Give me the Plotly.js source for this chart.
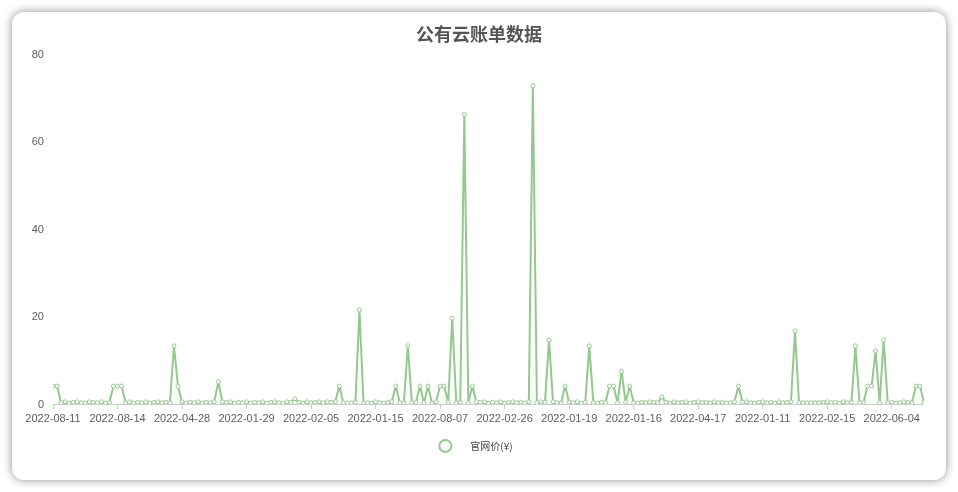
<!DOCTYPE html>
<html>
<head>
<meta charset="utf-8">
<script src="https://cdn.plot.ly/plotly-3.0.1.min.js"></script>
<style>
  html, body { margin: 0; padding: 0; background: #ffffff; width: 958px; height: 492px; overflow: hidden; }
  #card { position: absolute; left: 12px; top: 12px; width: 934px; height: 468px; background: #ffffff;
          border-radius: 12px; box-shadow: 0 0 10px rgba(0,0,0,0.45); overflow: hidden; }
  #chart { width: 934px; height: 468px; will-change: transform; }
</style>
</head>
<body>
<div id="card"><div id="chart"></div></div>
<script>
// Tick labels shown on the category axis (every 16th category)
const tickLabels = ['2022-08-11','2022-08-14','2022-04-28','2022-01-29','2022-02-05','2022-01-15','2022-08-07',
                    '2022-02-26','2022-01-19','2022-01-16','2022-04-17','2022-01-11','2022-02-15','2022-06-04'];
const labelStep = 16;

// 官网价(¥) per bill row
const prices = [
  4.1, 4.1, 0.3, 0.5, 0.2, 0.4, 0.5, 0.3, 0.2, 0.5,
  0.4, 0.3, 0.5, 0.2, 0.4, 4.1, 4.1, 4.1, 0.3, 0.5,
  0.2, 0.4, 0.3, 0.5, 0.2, 0.4, 0.5, 0.3, 0.4, 0.3,
  13.3, 4.0, 0.5, 0.2, 0.4, 0.3, 0.5, 0.2, 0.4, 0.3,
  0.5, 5.1, 0.5, 0.4, 0.5, 0.2, 0.4, 0.3, 0.5, 0.2,
  0.4, 0.3, 0.5, 0.2, 0.4, 0.5, 0.3, 0.2, 0.5, 0.4,
  1.2, 0.4, 0.2, 0.5, 0.3, 0.4, 0.5, 0.3, 0.5, 0.4,
  0.5, 4.1, 0.3, 0.2, 0.3, 0.4, 21.5, 0.2, 0.3, 0.2,
  0.5, 0.3, 0.2, 0.4, 0.5, 4.1, 0.3, 0.2, 13.3, 0.3,
  0.4, 4.1, 0.3, 4.1, 0.2, 0.5, 4.1, 4.1, 0.4, 19.6,
  0.3, 0.4, 66.2, 0.3, 4.1, 0.5, 0.4, 0.5, 0.2, 0.4,
  0.3, 0.5, 0.2, 0.4, 0.5, 0.3, 0.4, 0.2, 0.5, 72.8,
  0.3, 0.5, 0.4, 14.6, 0.5, 0.3, 0.2, 4.1, 0.4, 0.3,
  0.5, 0.2, 0.4, 13.3, 0.3, 0.2, 0.4, 0.3, 4.1, 4.1,
  0.3, 7.5, 0.4, 4.1, 0.3, 0.2, 0.4, 0.3, 0.5, 0.4,
  0.3, 1.6, 0.4, 0.2, 0.5, 0.3, 0.4, 0.5, 0.2, 0.4,
  0.5, 0.3, 0.4, 0.2, 0.5, 0.3, 0.4, 0.2, 0.3, 0.5,
  4.1, 0.4, 0.5, 0.3, 0.2, 0.4, 0.5, 0.3, 0.4, 0.2,
  0.5, 0.3, 0.4, 0.5, 16.7, 0.3, 0.3, 0.3, 0.3, 0.3,
  0.3, 0.4, 0.5, 0.3, 0.4, 0.2, 0.5, 0.3, 0.4, 13.3,
  0.3, 0.4, 4.1, 4.1, 12.1, 0.3, 14.6, 0.3, 0.4, 0.2,
  0.3, 0.5, 0.4, 0.3, 4.1, 4.1, 0.3
];
const seriesName = '官网价(¥)';
const chartTitle = '公有云账单数据';

const xIdx = prices.map((_, i) => i);
const tickVals = tickLabels.map((_, i) => i * labelStep);
const green = 'rgb(148,200,143)';

const traces = [
  {
    type: 'scatter', mode: 'lines+markers', x: xIdx, y: prices, name: seriesName, showlegend: false,
    line: { color: green, width: 2 },
    marker: { symbol: 'circle', size: 4, color: '#ffffff', line: { color: green, width: 1 } },
    hoverinfo: 'skip'
  },
  {
    type: 'scatter', mode: 'markers', x: [null], y: [null], name: seriesName, showlegend: true,
    marker: { symbol: 'circle-open', size: 12, color: green, line: { color: green, width: 2 } }
  }
];

const layout = {
  width: 934, height: 468,
  paper_bgcolor: 'rgba(0,0,0,0)', plot_bgcolor: 'rgba(0,0,0,0)',
  margin: { l: 41, r: 22, t: 42, b: 76 },
  font: { family: '"Liberation Sans", Arial, "Noto Sans CJK SC", sans-serif', color: '#606060', size: 11 },
  title: {
    text: chartTitle, x: 0.5, xanchor: 'center', yref: 'container', y: 1 - 23/468, yanchor: 'middle',
    font: { family: '"Noto Sans CJK SC", sans-serif', size: 18, color: '#555555', weight: 700 }
  },
  xaxis: {
    range: [0, prices.length - 1], tickmode: 'array', tickvals: tickVals, ticktext: tickLabels,
    showgrid: false, zeroline: false, showline: true, linecolor: '#cccccc', linewidth: 1,
    ticks: 'outside', ticklen: 4, tickcolor: '#cccccc', tickfont: { size: 11, color: '#606060' }
  },
  yaxis: {
    range: [0, 80], dtick: 20, showgrid: false, zeroline: false, showline: false, ticks: '',
    ticklabelstandoff: 8, tickfont: { size: 11, color: '#606060' }
  },
  legend: {
    orientation: 'h', x: 0.478, xanchor: 'center', y: -0.12, yanchor: 'middle', itemwidth: 40,
    font: { family: '"Noto Sans CJK SC", sans-serif', size: 10, color: '#444444' }
  },
  showlegend: true
};

Plotly.newPlot('chart', traces, layout, { displayModeBar: false, staticPlot: true });
</script>
</body>
</html>
